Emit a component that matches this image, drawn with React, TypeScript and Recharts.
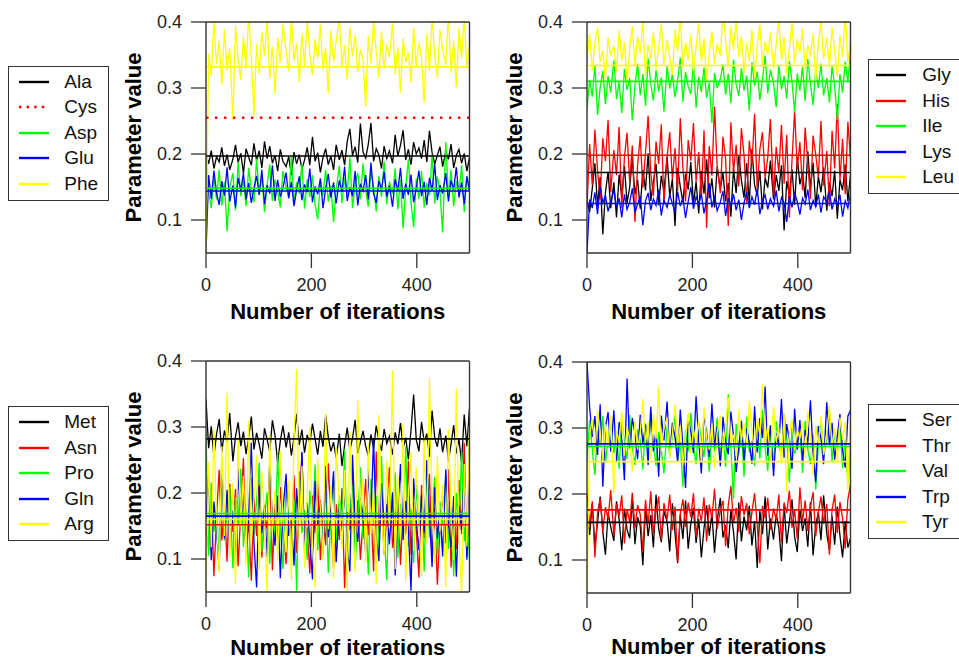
import React from 'react';
import { LineChart, Line, XAxis, YAxis, ReferenceLine } from 'recharts';

const FONT = '"Liberation Sans", Arial, Helvetica, sans-serif';

// thinned iteration index (every ~5th sample of 500)
const ITER = Array.from({ length: 100 }, (_, i) => Math.round((i * 500) / 99));
const X_TICKS = [0, 200, 400];
const Y_TICKS = [0.1, 0.2, 0.3, 0.4];

const BLACK = '#000000';
const RED = '#ff0000';
const GREEN = '#00ff00';
const BLUE = '#0000ff';
const YELLOW = '#ffff00';

// ---- panel 1 ----
const ALA = [
  0.200, 0.185, 0.205, 0.178, 0.196, 0.188, 0.210, 0.182, 0.199, 0.176,
  0.192, 0.214, 0.187, 0.201, 0.171, 0.208, 0.195, 0.183, 0.216, 0.190,
  0.205, 0.179, 0.219, 0.193, 0.212, 0.186, 0.198, 0.174, 0.207, 0.189,
  0.181, 0.196, 0.168, 0.203, 0.185, 0.199, 0.177, 0.191, 0.210, 0.183,
  0.226, 0.189, 0.202, 0.172, 0.195, 0.208, 0.184, 0.197, 0.176, 0.214,
  0.191, 0.206, 0.183, 0.219, 0.238, 0.198, 0.211, 0.187, 0.246, 0.203,
  0.194, 0.215, 0.247, 0.189, 0.208, 0.199, 0.178, 0.212, 0.193, 0.205,
  0.186, 0.229, 0.197, 0.213, 0.236, 0.191, 0.207, 0.184, 0.218, 0.200,
  0.209, 0.193, 0.221, 0.188, 0.235, 0.202, 0.185, 0.198, 0.211, 0.181,
  0.204, 0.192, 0.215, 0.179, 0.198, 0.207, 0.186, 0.201, 0.174, 0.195,
];
const CYS_VALUE = 0.255;
const ASP = [
  0.190, 0.142, 0.118, 0.165, 0.131, 0.176, 0.122, 0.158, 0.083, 0.149,
  0.171, 0.115, 0.188, 0.136, 0.160, 0.121, 0.179, 0.145, 0.127, 0.193,
  0.138, 0.167, 0.112, 0.154, 0.184, 0.129, 0.161, 0.143, 0.119, 0.174,
  0.150, 0.133, 0.196, 0.125, 0.157, 0.140, 0.185, 0.117, 0.162, 0.135,
  0.168, 0.123, 0.101, 0.159, 0.137, 0.176, 0.128, 0.152, 0.097, 0.146,
  0.182, 0.126, 0.164, 0.139, 0.195, 0.118, 0.155, 0.171, 0.131, 0.186,
  0.144, 0.120, 0.173, 0.151, 0.113, 0.167, 0.135, 0.189, 0.124, 0.158,
  0.140, 0.178, 0.116, 0.161, 0.087, 0.148, 0.192, 0.127, 0.089, 0.163,
  0.132, 0.174, 0.119, 0.156, 0.137, 0.199, 0.125, 0.166, 0.143, 0.081,
  0.218, 0.134, 0.176, 0.121, 0.159, 0.141, 0.183, 0.112, 0.167, 0.150,
];
const GLU = [
  0.050, 0.168, 0.132, 0.175, 0.141, 0.123, 0.159, 0.137, 0.180, 0.128,
  0.152, 0.119, 0.164, 0.145, 0.171, 0.131, 0.156, 0.126, 0.148, 0.167,
  0.138, 0.176, 0.124, 0.153, 0.140, 0.183, 0.129, 0.161, 0.135, 0.149,
  0.172, 0.133, 0.158, 0.121, 0.146, 0.166, 0.130, 0.154, 0.142, 0.178,
  0.127, 0.151, 0.139, 0.163, 0.118, 0.147, 0.170, 0.134, 0.157, 0.125,
  0.160, 0.143, 0.181, 0.129, 0.150, 0.136, 0.174, 0.122, 0.155, 0.144,
  0.168, 0.131, 0.187, 0.140, 0.126, 0.159, 0.147, 0.173, 0.135, 0.152,
  0.120, 0.162, 0.144, 0.179, 0.132, 0.155, 0.138, 0.169, 0.127, 0.148,
  0.175, 0.136, 0.158, 0.123, 0.164, 0.145, 0.185, 0.130, 0.153, 0.140,
  0.171, 0.128, 0.160, 0.146, 0.180, 0.134, 0.157, 0.124, 0.166, 0.143,
];
const PHE = [
  0.050, 0.352, 0.318, 0.401, 0.336, 0.372, 0.305, 0.389, 0.327, 0.360,
  0.252, 0.394, 0.341, 0.312, 0.378, 0.330, 0.411, 0.346, 0.258, 0.367,
  0.322, 0.385, 0.349, 0.404, 0.314, 0.363, 0.291, 0.376, 0.338, 0.397,
  0.357, 0.325, 0.409, 0.342, 0.368, 0.310, 0.383, 0.334, 0.402, 0.351,
  0.319, 0.374, 0.345, 0.396, 0.328, 0.361, 0.292, 0.387, 0.339, 0.370,
  0.406, 0.333, 0.365, 0.313, 0.392, 0.348, 0.381, 0.324, 0.359, 0.343,
  0.272, 0.379, 0.337, 0.403, 0.355, 0.316, 0.386, 0.329, 0.366, 0.347,
  0.398, 0.321, 0.362, 0.293, 0.375, 0.340, 0.354, 0.308, 0.391, 0.332,
  0.369, 0.344, 0.278, 0.382, 0.326, 0.405, 0.350, 0.315, 0.388, 0.358,
  0.335, 0.412, 0.323, 0.371, 0.301, 0.390, 0.346, 0.408, 0.331, 0.364,
];

// ---- panel 2 ----
const GLY = [
  0.130, 0.112, 0.148, 0.186, 0.121, 0.165, 0.078, 0.142, 0.173, 0.118,
  0.157, 0.104, 0.169, 0.135, 0.182, 0.126, 0.150, 0.193, 0.139, 0.161,
  0.117, 0.176, 0.145, 0.201, 0.129, 0.158, 0.185, 0.122, 0.167, 0.143,
  0.196, 0.136, 0.162, 0.091, 0.179, 0.151, 0.127, 0.170, 0.146, 0.188,
  0.124, 0.158, 0.110, 0.174, 0.140, 0.192, 0.133, 0.163, 0.119, 0.181,
  0.147, 0.171, 0.128, 0.156, 0.105, 0.178, 0.141, 0.198, 0.160, 0.134,
  0.186, 0.125, 0.207, 0.153, 0.137, 0.175, 0.116, 0.164, 0.149, 0.190,
  0.131, 0.168, 0.144, 0.183, 0.084, 0.159, 0.139, 0.177, 0.123, 0.195,
  0.154, 0.172, 0.133, 0.204, 0.148, 0.187, 0.120, 0.166, 0.142, 0.180,
  0.114, 0.157, 0.136, 0.175, 0.102, 0.161, 0.145, 0.184, 0.128, 0.169,
];
const HIS = [
  0.120, 0.215, 0.153, 0.237, 0.176, 0.131, 0.224, 0.189, 0.251, 0.142,
  0.206, 0.168, 0.241, 0.118, 0.195, 0.232, 0.157, 0.213, 0.097, 0.183,
  0.227, 0.149, 0.202, 0.258, 0.171, 0.136, 0.219, 0.185, 0.245, 0.124,
  0.196, 0.233, 0.162, 0.209, 0.144, 0.254, 0.179, 0.128, 0.221, 0.190,
  0.247, 0.158, 0.203, 0.134, 0.236, 0.088, 0.212, 0.167, 0.272, 0.181,
  0.141, 0.226, 0.193, 0.091, 0.248, 0.173, 0.214, 0.151, 0.239, 0.198,
  0.126, 0.220, 0.184, 0.261, 0.147, 0.207, 0.233, 0.164, 0.195, 0.253,
  0.138, 0.211, 0.172, 0.244, 0.155, 0.229, 0.104, 0.191, 0.266, 0.177,
  0.218, 0.145, 0.240, 0.186, 0.132, 0.228, 0.199, 0.165, 0.250, 0.152,
  0.205, 0.121, 0.235, 0.178, 0.276, 0.160, 0.223, 0.139, 0.249, 0.192,
];
const ILE = [
  0.268, 0.312, 0.287, 0.334, 0.259, 0.301, 0.326, 0.276, 0.318, 0.293,
  0.342, 0.283, 0.309, 0.262, 0.329, 0.297, 0.315, 0.251, 0.304, 0.337,
  0.289, 0.321, 0.273, 0.345, 0.306, 0.281, 0.327, 0.295, 0.316, 0.264,
  0.333, 0.299, 0.320, 0.286, 0.311, 0.346, 0.279, 0.324, 0.302, 0.291,
  0.338, 0.270, 0.317, 0.294, 0.331, 0.285, 0.308, 0.247, 0.323, 0.300,
  0.314, 0.336, 0.290, 0.322, 0.277, 0.343, 0.305, 0.288, 0.330, 0.296,
  0.319, 0.266, 0.339, 0.303, 0.325, 0.282, 0.313, 0.349, 0.292, 0.328,
  0.307, 0.271, 0.335, 0.298, 0.318, 0.284, 0.341, 0.310, 0.263, 0.322,
  0.296, 0.332, 0.280, 0.344, 0.306, 0.274, 0.327, 0.300, 0.337, 0.289,
  0.315, 0.278, 0.333, 0.303, 0.252, 0.321, 0.293, 0.340, 0.309, 0.355,
];
const LYS = [
  0.050, 0.131, 0.118, 0.142, 0.109, 0.151, 0.126, 0.137, 0.113, 0.128,
  0.145, 0.120, 0.133, 0.104, 0.139, 0.116, 0.127, 0.148, 0.111, 0.124,
  0.136, 0.092, 0.129, 0.141, 0.115, 0.132, 0.122, 0.146, 0.107, 0.130,
  0.119, 0.138, 0.125, 0.112, 0.143, 0.121, 0.134, 0.103, 0.128, 0.150,
  0.117, 0.135, 0.124, 0.140, 0.110, 0.130, 0.156, 0.119, 0.137, 0.114,
  0.127, 0.144, 0.106, 0.133, 0.122, 0.139, 0.115, 0.131, 0.100, 0.126,
  0.142, 0.118, 0.135, 0.123, 0.147, 0.109, 0.129, 0.138, 0.116, 0.132,
  0.121, 0.145, 0.113, 0.134, 0.126, 0.097, 0.137, 0.119, 0.141, 0.128,
  0.108, 0.133, 0.124, 0.146, 0.115, 0.130, 0.120, 0.139, 0.111, 0.135,
  0.127, 0.143, 0.116, 0.132, 0.122, 0.138, 0.105, 0.129, 0.118, 0.140,
];
const LEU = [
  0.345, 0.382, 0.327, 0.368, 0.391, 0.339, 0.357, 0.312, 0.376, 0.349,
  0.364, 0.325, 0.387, 0.341, 0.370, 0.305, 0.359, 0.394, 0.333, 0.378,
  0.352, 0.403, 0.318, 0.366, 0.344, 0.385, 0.329, 0.361, 0.397, 0.336,
  0.373, 0.347, 0.320, 0.389, 0.355, 0.410, 0.331, 0.369, 0.342, 0.381,
  0.326, 0.362, 0.398, 0.340, 0.375, 0.309, 0.353, 0.386, 0.337, 0.367,
  0.349, 0.415, 0.372, 0.332, 0.393, 0.358, 0.404, 0.346, 0.379, 0.323,
  0.368, 0.340, 0.388, 0.315, 0.363, 0.396, 0.335, 0.371, 0.350, 0.384,
  0.330, 0.366, 0.406, 0.343, 0.377, 0.321, 0.360, 0.399, 0.338, 0.374,
  0.354, 0.390, 0.328, 0.365, 0.348, 0.383, 0.311, 0.370, 0.401, 0.344,
  0.376, 0.334, 0.392, 0.356, 0.317, 0.380, 0.347, 0.413, 0.339, 0.371,
];

// ---- panel 3 ----
const MET = [
  0.342, 0.268, 0.301, 0.255, 0.289, 0.312, 0.262, 0.295, 0.278, 0.321,
  0.248, 0.286, 0.307, 0.271, 0.293, 0.259, 0.283, 0.316, 0.266, 0.291,
  0.274, 0.252, 0.298, 0.281, 0.263, 0.310, 0.287, 0.245, 0.279, 0.302,
  0.269, 0.292, 0.257, 0.284, 0.320, 0.273, 0.296, 0.261, 0.288, 0.276,
  0.305, 0.282, 0.258, 0.294, 0.270, 0.318, 0.285, 0.263, 0.277, 0.253,
  0.290, 0.241, 0.272, 0.299, 0.265, 0.283, 0.311, 0.260, 0.278, 0.294,
  0.271, 0.256, 0.289, 0.267, 0.302, 0.279, 0.264, 0.297, 0.275, 0.286,
  0.258, 0.292, 0.274, 0.306, 0.268, 0.284, 0.251, 0.295, 0.349, 0.281,
  0.263, 0.308, 0.277, 0.290, 0.255, 0.325, 0.284, 0.270, 0.298, 0.262,
  0.287, 0.249, 0.274, 0.303, 0.260, 0.282, 0.246, 0.319, 0.271, 0.328,
];
const ASN = [
  0.150, 0.112, 0.198, 0.074, 0.163, 0.235, 0.128, 0.181, 0.096, 0.214,
  0.141, 0.206, 0.089, 0.172, 0.253, 0.118, 0.157, 0.067, 0.193, 0.135,
  0.224, 0.102, 0.168, 0.146, 0.241, 0.083, 0.186, 0.125, 0.209, 0.154,
  0.092, 0.177, 0.132, 0.227, 0.109, 0.161, 0.261, 0.119, 0.148, 0.078,
  0.196, 0.139, 0.218, 0.098, 0.165, 0.121, 0.245, 0.153, 0.086, 0.183,
  0.129, 0.207, 0.056, 0.171, 0.144, 0.232, 0.114, 0.189, 0.099, 0.158,
  0.221, 0.136, 0.176, 0.081, 0.263, 0.126, 0.192, 0.107, 0.167, 0.239,
  0.117, 0.155, 0.203, 0.091, 0.174, 0.137, 0.249, 0.106, 0.185, 0.143,
  0.072, 0.212, 0.131, 0.166, 0.229, 0.095, 0.178, 0.061, 0.149, 0.197,
  0.124, 0.236, 0.087, 0.160, 0.115, 0.220, 0.138, 0.276, 0.103, 0.151,
];
const PRO = [
  0.290, 0.105, 0.216, 0.141, 0.182, 0.097, 0.251, 0.128, 0.169, 0.209,
  0.086, 0.194, 0.153, 0.237, 0.118, 0.175, 0.072, 0.223, 0.137, 0.188,
  0.246, 0.111, 0.162, 0.201, 0.093, 0.178, 0.134, 0.259, 0.147, 0.085,
  0.212, 0.166, 0.121, 0.190, 0.052, 0.233, 0.139, 0.174, 0.099, 0.204,
  0.156, 0.243, 0.113, 0.186, 0.132, 0.218, 0.079, 0.168, 0.227, 0.124,
  0.197, 0.145, 0.266, 0.108, 0.173, 0.213, 0.088, 0.159, 0.239, 0.130,
  0.181, 0.076, 0.221, 0.150, 0.195, 0.116, 0.256, 0.142, 0.068, 0.207,
  0.163, 0.231, 0.102, 0.184, 0.138, 0.270, 0.119, 0.176, 0.094, 0.214,
  0.148, 0.192, 0.081, 0.242, 0.133, 0.170, 0.224, 0.107, 0.187, 0.152,
  0.229, 0.115, 0.179, 0.074, 0.200, 0.144, 0.262, 0.127, 0.171, 0.101,
];
const GLN = [
  0.160, 0.226, 0.098, 0.187, 0.143, 0.084, 0.248, 0.131, 0.205, 0.117,
  0.173, 0.091, 0.238, 0.150, 0.199, 0.108, 0.164, 0.276, 0.125, 0.057,
  0.211, 0.139, 0.182, 0.103, 0.254, 0.156, 0.120, 0.196, 0.071, 0.174,
  0.229, 0.135, 0.161, 0.090, 0.207, 0.148, 0.262, 0.114, 0.185, 0.127,
  0.069, 0.218, 0.152, 0.190, 0.106, 0.241, 0.133, 0.172, 0.233, 0.095,
  0.178, 0.142, 0.204, 0.119, 0.081, 0.258, 0.154, 0.126, 0.193, 0.162,
  0.110, 0.234, 0.168, 0.283, 0.137, 0.097, 0.215, 0.150, 0.183, 0.122,
  0.201, 0.075, 0.170, 0.244, 0.129, 0.188, 0.146, 0.052, 0.222, 0.158,
  0.113, 0.197, 0.140, 0.250, 0.167, 0.088, 0.209, 0.131, 0.176, 0.104,
  0.236, 0.153, 0.118, 0.195, 0.073, 0.181, 0.144, 0.227, 0.099, 0.268,
];
const ARG = [
  0.050, 0.247, 0.118, 0.296, 0.163, 0.079, 0.271, 0.135, 0.352, 0.102,
  0.215, 0.062, 0.284, 0.149, 0.226, 0.091, 0.310, 0.124, 0.193, 0.258,
  0.083, 0.232, 0.170, 0.045, 0.288, 0.141, 0.205, 0.097, 0.264, 0.156,
  0.110, 0.219, 0.068, 0.278, 0.388, 0.132, 0.241, 0.087, 0.198, 0.301,
  0.128, 0.057, 0.253, 0.176, 0.099, 0.320, 0.145, 0.212, 0.071, 0.269,
  0.186, 0.114, 0.235, 0.048, 0.292, 0.151, 0.080, 0.340, 0.167, 0.222,
  0.095, 0.275, 0.138, 0.204, 0.063, 0.318, 0.172, 0.107, 0.249, 0.146,
  0.386, 0.085, 0.227, 0.130, 0.305, 0.066, 0.191, 0.262, 0.112, 0.239,
  0.158, 0.074, 0.285, 0.123, 0.374, 0.184, 0.092, 0.256, 0.142, 0.213,
  0.058, 0.297, 0.166, 0.098, 0.358, 0.134, 0.046, 0.244, 0.119, 0.303,
];

// ---- panel 4 ----
const SER = [
  0.170, 0.138, 0.185, 0.121, 0.157, 0.196, 0.143, 0.108, 0.172, 0.150,
  0.129, 0.189, 0.161, 0.115, 0.178, 0.146, 0.133, 0.193, 0.124, 0.165,
  0.152, 0.092, 0.181, 0.136, 0.168, 0.119, 0.199, 0.147, 0.127, 0.174,
  0.158, 0.113, 0.186, 0.141, 0.095, 0.169, 0.132, 0.190, 0.117, 0.155,
  0.179, 0.126, 0.162, 0.104, 0.148, 0.183, 0.137, 0.171, 0.111, 0.160,
  0.194, 0.134, 0.153, 0.118, 0.176, 0.142, 0.101, 0.187, 0.128, 0.166,
  0.145, 0.182, 0.122, 0.159, 0.088, 0.175, 0.139, 0.196, 0.116, 0.163,
  0.131, 0.170, 0.149, 0.098, 0.184, 0.125, 0.157, 0.192, 0.135, 0.112,
  0.177, 0.144, 0.163, 0.120, 0.188, 0.107, 0.153, 0.173, 0.130, 0.198,
  0.140, 0.115, 0.167, 0.123, 0.181, 0.137, 0.104, 0.159, 0.119, 0.133,
];
const THR = [
  0.200, 0.152, 0.189, 0.104, 0.171, 0.193, 0.143, 0.180, 0.162, 0.206,
  0.137, 0.185, 0.166, 0.198, 0.125, 0.177, 0.157, 0.202, 0.148, 0.183,
  0.169, 0.113, 0.191, 0.154, 0.204, 0.140, 0.174, 0.196, 0.131, 0.186,
  0.161, 0.199, 0.145, 0.181, 0.097, 0.170, 0.192, 0.150, 0.187, 0.165,
  0.201, 0.134, 0.178, 0.159, 0.195, 0.128, 0.184, 0.163, 0.208, 0.147,
  0.175, 0.190, 0.121, 0.183, 0.212, 0.156, 0.179, 0.142, 0.197, 0.168,
  0.186, 0.139, 0.173, 0.201, 0.153, 0.095, 0.182, 0.164, 0.194, 0.146,
  0.178, 0.160, 0.199, 0.126, 0.187, 0.171, 0.205, 0.149, 0.176, 0.132,
  0.210, 0.158, 0.190, 0.144, 0.181, 0.203, 0.136, 0.172, 0.196, 0.155,
  0.185, 0.108, 0.176, 0.199, 0.141, 0.188, 0.163, 0.117, 0.192, 0.214,
];
const VAL = [
  0.250, 0.312, 0.268, 0.229, 0.296, 0.273, 0.318, 0.247, 0.284, 0.305,
  0.262, 0.291, 0.238, 0.315, 0.276, 0.253, 0.320, 0.269, 0.244, 0.298,
  0.281, 0.237, 0.307, 0.259, 0.326, 0.275, 0.243, 0.294, 0.266, 0.231,
  0.302, 0.258, 0.286, 0.319, 0.248, 0.279, 0.211, 0.297, 0.264, 0.323,
  0.271, 0.245, 0.309, 0.283, 0.256, 0.300, 0.234, 0.289, 0.265, 0.316,
  0.252, 0.288, 0.241, 0.351, 0.272, 0.193, 0.306, 0.260, 0.294, 0.226,
  0.317, 0.263, 0.280, 0.242, 0.304, 0.254, 0.328, 0.270, 0.235, 0.292,
  0.246, 0.310, 0.273, 0.257, 0.322, 0.285, 0.218, 0.301, 0.261, 0.277,
  0.299, 0.232, 0.311, 0.268, 0.245, 0.290, 0.207, 0.274, 0.314, 0.255,
  0.282, 0.328, 0.249, 0.296, 0.266, 0.307, 0.239, 0.283, 0.214, 0.271,
];
const TRP = [
  0.400, 0.331, 0.287, 0.318, 0.259, 0.336, 0.211, 0.301, 0.324, 0.264,
  0.327, 0.248, 0.309, 0.283, 0.221, 0.375, 0.269, 0.315, 0.291, 0.253,
  0.320, 0.276, 0.305, 0.244, 0.332, 0.265, 0.296, 0.226, 0.319, 0.281,
  0.340, 0.257, 0.308, 0.286, 0.249, 0.328, 0.272, 0.209, 0.313, 0.294,
  0.262, 0.348, 0.280, 0.231, 0.322, 0.290, 0.256, 0.337, 0.271, 0.302,
  0.242, 0.317, 0.279, 0.260, 0.325, 0.288, 0.233, 0.270, 0.311, 0.251,
  0.299, 0.278, 0.246, 0.333, 0.263, 0.315, 0.285, 0.363, 0.258, 0.304,
  0.227, 0.292, 0.273, 0.344, 0.255, 0.306, 0.282, 0.238, 0.329, 0.267,
  0.312, 0.250, 0.297, 0.277, 0.342, 0.261, 0.218, 0.303, 0.284, 0.245,
  0.339, 0.274, 0.308, 0.252, 0.289, 0.321, 0.266, 0.240, 0.318, 0.327,
];
const TYR = [
  0.050, 0.288, 0.314, 0.262, 0.327, 0.295, 0.249, 0.306, 0.272, 0.318,
  0.201, 0.297, 0.279, 0.325, 0.258, 0.301, 0.286, 0.234, 0.311, 0.267,
  0.293, 0.344, 0.276, 0.309, 0.252, 0.321, 0.283, 0.362, 0.265, 0.299,
  0.316, 0.255, 0.291, 0.336, 0.273, 0.304, 0.244, 0.287, 0.323, 0.261,
  0.298, 0.278, 0.312, 0.248, 0.331, 0.285, 0.267, 0.307, 0.239, 0.294,
  0.319, 0.263, 0.302, 0.347, 0.276, 0.290, 0.257, 0.328, 0.281, 0.308,
  0.271, 0.341, 0.296, 0.260, 0.315, 0.289, 0.366, 0.274, 0.305, 0.250,
  0.332, 0.279, 0.300, 0.246, 0.322, 0.203, 0.291, 0.313, 0.266, 0.297,
  0.284, 0.310, 0.254, 0.326, 0.287, 0.230, 0.303, 0.275, 0.318, 0.259,
  0.292, 0.334, 0.269, 0.301, 0.247, 0.316, 0.282, 0.309, 0.206, 0.320,
];

type Series = { name: string; color: string; values?: number[]; mean: number; dotted?: boolean };

const PANEL_1: Series[] = [
  { name: 'Ala', color: BLACK, values: ALA, mean: 0.197 },
  { name: 'Cys', color: RED, mean: CYS_VALUE, dotted: true },
  { name: 'Asp', color: GREEN, values: ASP, mean: 0.148 },
  { name: 'Glu', color: BLUE, values: GLU, mean: 0.144 },
  { name: 'Phe', color: YELLOW, values: PHE, mean: 0.332 },
];
const PANEL_2: Series[] = [
  { name: 'Gly', color: BLACK, values: GLY, mean: 0.172 },
  { name: 'His', color: RED, values: HIS, mean: 0.198 },
  { name: 'Ile', color: GREEN, values: ILE, mean: 0.31 },
  { name: 'Lys', color: BLUE, values: LYS, mean: 0.125 },
  { name: 'Leu', color: YELLOW, values: LEU, mean: 0.334 },
];
const PANEL_3: Series[] = [
  { name: 'Met', color: BLACK, values: MET, mean: 0.282 },
  { name: 'Asn', color: RED, values: ASN, mean: 0.152 },
  { name: 'Pro', color: GREEN, values: PRO, mean: 0.169 },
  { name: 'Gln', color: BLUE, values: GLN, mean: 0.165 },
  { name: 'Arg', color: YELLOW, values: ARG, mean: 0.16 },
];
const PANEL_4: Series[] = [
  { name: 'Ser', color: BLACK, values: SER, mean: 0.157 },
  { name: 'Thr', color: RED, values: THR, mean: 0.176 },
  { name: 'Val', color: GREEN, values: VAL, mean: 0.272 },
  { name: 'Trp', color: BLUE, values: TRP, mean: 0.276 },
  { name: 'Tyr', color: YELLOW, values: TYR, mean: 0.249 },
];

const buildRows = (series: Series[]) =>
  ITER.map((iter, i) => {
    const row: Record<string, number> = { iter };
    series.forEach((s) => {
      if (s.values) row[s.name] = s.values[i];
    });
    return row;
  });

const PLOT_W = 263.5;
const PLOT_H = 231;
const AXIS_W = 106;
const TOP = 22;
const RIGHT = 10;
const BOX = '#333';

type PanelProps = { plotLeft: number; plotTop: number; titleBase: number; bottom: number; series: Series[] };

const TracePanel = ({ plotLeft, plotTop, titleBase, bottom, series }: PanelProps) => {
  const rows = buildRows(series);
  const chartTop = plotTop - TOP;
  const axisH = bottom - (plotTop + PLOT_H);
  const xTitle = () => (
    <text
      x={AXIS_W + PLOT_W / 2}
      y={titleBase - chartTop}
      textAnchor="middle"
      fontSize={22}
      fontWeight="bold"
      fontFamily={FONT}
      fill="#000"
    >
      Number of iterations
    </text>
  );
  const yTitle = () => (
    <text
      x={AXIS_W - 65}
      y={TOP + PLOT_H / 2}
      transform={`rotate(-90 ${AXIS_W - 65} ${TOP + PLOT_H / 2})`}
      textAnchor="middle"
      fontSize={22}
      fontWeight="bold"
      fontFamily={FONT}
      fill="#000"
    >
      Parameter value
    </text>
  );
  return (
    <div style={{ position: 'absolute', left: plotLeft - AXIS_W, top: chartTop }}>
      <LineChart
        width={AXIS_W + PLOT_W + RIGHT}
        height={TOP + PLOT_H + axisH}
        data={rows}
        margin={{ top: TOP, right: RIGHT, bottom: 0, left: 0 }}
      >
        <XAxis
          dataKey="iter"
          type="number"
          domain={[0, 500]}
          ticks={X_TICKS}
          allowDataOverflow
          height={axisH}
          tickSize={15}
          tickMargin={10}
          axisLine={false}
          tickLine={{ stroke: BOX, strokeWidth: 1.3 }}
          tick={{ fontSize: 18, fill: '#222', fontFamily: FONT }}
          label={xTitle}
        />
        <YAxis
          type="number"
          domain={[0.05, 0.4]}
          ticks={Y_TICKS}
          allowDataOverflow
          width={AXIS_W}
          tickSize={15}
          tickMargin={9}
          axisLine={false}
          tickLine={{ stroke: BOX, strokeWidth: 1.3 }}
          tick={{ fontSize: 18, fill: '#222', fontFamily: FONT }}
          tickFormatter={(v: number) => v.toFixed(1)}
          label={yTitle}
        />
        {series
          .filter((s) => s.values)
          .map((s) => (
            <Line
              key={s.name}
              type="linear"
              dataKey={s.name}
              stroke={s.color}
              strokeWidth={1.3}
              dot={false}
              isAnimationActive={false}
            />
          ))}
        {series.map((s) => (
          <ReferenceLine
            key={`mean-${s.name}`}
            y={s.mean}
            stroke={s.color}
            strokeWidth={s.dotted ? 2.4 : 1.6}
            strokeDasharray={s.dotted ? '2.4 6.6' : undefined}
          />
        ))}
        {/* plot frame */}
        <ReferenceLine y={0.4} stroke={BOX} strokeWidth={1.4} />
        <ReferenceLine y={0.05} stroke={BOX} strokeWidth={1.4} />
        <ReferenceLine x={0} stroke={BOX} strokeWidth={1.4} />
        <ReferenceLine x={500} stroke={BOX} strokeWidth={1.4} />
      </LineChart>
    </div>
  );
};

type LegendProps = { left: number; top: number; series: Series[]; lineX?: number; textX?: number };

const LegendBox = ({ left, top, series, lineX = 10, textX = 55 }: LegendProps) => (
  <div
    style={{
      position: 'absolute',
      left,
      top,
      width: 101,
      height: 135,
      border: `1.4px solid ${BOX}`,
      boxSizing: 'border-box',
      background: '#fff',
    }}
  >
    {series.map((s, i) => (
      <div key={s.name} style={{ position: 'absolute', left: 0, top: 15 + 25.5 * i - 12, height: 24, width: 100 }}>
        <svg width={50} height={24} style={{ position: 'absolute', left: 0, top: 0 }}>
          <line
            x1={lineX}
            x2={lineX + 30}
            y1={12}
            y2={12}
            stroke={s.color}
            strokeWidth={2.4}
            strokeDasharray={s.dotted ? '2.4 5.2' : undefined}
          />
        </svg>
        <span
          style={{
            position: 'absolute',
            left: textX,
            top: 0,
            lineHeight: '24px',
            fontSize: 19,
            fontFamily: FONT,
            color: '#111',
          }}
        >
          {s.name}
        </span>
      </div>
    ))}
  </div>
);

export default function App() {
  return (
    <div
      style={{
        position: 'absolute',
        left: 0,
        top: 0,
        width: 959,
        height: 660,
        overflow: 'hidden',
        background: '#fff',
        fontFamily: FONT,
      }}
    >
      <TracePanel plotLeft={205.7} plotTop={22} titleBase={319} bottom={332} series={PANEL_1} />
      <TracePanel plotLeft={587.3} plotTop={22} titleBase={319} bottom={332} series={PANEL_2} />
      <TracePanel plotLeft={205.7} plotTop={360.5} titleBase={654} bottom={660} series={PANEL_3} />
      <TracePanel plotLeft={587.3} plotTop={362.3} titleBase={654} bottom={660} series={PANEL_4} />
      <LegendBox left={8.3} top={65.7} series={PANEL_1} />
      <LegendBox left={868.3} top={59} series={PANEL_2} lineX={7} textX={53} />
      <LegendBox left={8.3} top={406} series={PANEL_3} />
      <LegendBox left={868} top={404} series={PANEL_4} lineX={7} textX={53} />
    </div>
  );
}
